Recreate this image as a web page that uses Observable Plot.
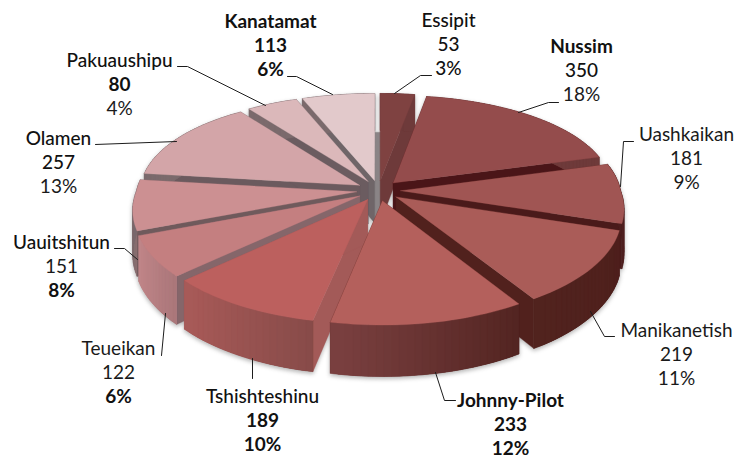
<!DOCTYPE html>
<html><head><meta charset="utf-8">
<script src="https://cdn.jsdelivr.net/npm/d3@7"></script>
<script src="https://cdn.jsdelivr.net/npm/@observablehq/plot@0.6"></script>
<style>
html,body{margin:0;padding:0;background:#fff}
svg > g[aria-label="line"]:first-of-type{filter:drop-shadow(0 2px 2px rgba(90,90,90,.45))}
</style></head><body><div id="chart"></div>
<script>
// Data
const names  = ["Essipit","Nussim","Uashkaikan","Manikanetish","Johnny-Pilot","Tshishteshinu","Teueikan","Uauitshitun","Olamen","Pakuaushipu","Kanatamat"];
const values = [53,350,181,219,233,189,122,151,257,80,113];
const shares = ["3%","18%","9%","11%","12%","10%","6%","8%","13%","4%","6%"];

// Styles, one entry per slice
const topColors  = ["#7f4241","#944c4c","#a05553","#aa5c58","#b4605c","#bc605e","#c47f80","#cc9092","#d3a5a8","#dbb8ba","#e2c9cb"];
const wallColors = ["#6e3a3a","#4a1518","#4a1a1a","#51211d","#51231f","#a35a58","#85666a","#6f5a5c","#6b5a5e","#6b5c60","#6f6568"];
const rimLeft    = ["#6e3a3a","#6e3a3a","#4f2020","#51231e","#7a4040","#a85a58","#c08588","#7b6a6c","#7b6a6c","#7b6a6c","#7b6a6c"];
const rimRight   = ["#6e3a3a","#6e3a3a","#4f2020","#4f201d","#512320","#854a48","#a87578","#8d7072","#7b6a6c","#7b6a6c","#7b6a6c"];
const coreColor  = "#8a8486";
const weights = [
  ["600","600","600"],["700","600","400"],["400","400","400"],["400","400","400"],
  ["700","700","700"],["600","700","700"],["400","400","700"],["600","400","700"],
  ["600","600","400"],["600","700","400"],["700","700","700"]
];

// Layout of the labels and leaders (pixels)
const labelX = [448,581,686,676,510,262,118,61,58,119,270];
const labelY = [20,46,134,330,400,396,348,242,138,60,21];
const lineGap = 24.4;
const leaders = [
  [[431,75],[420,75],[394,93]],
  [[558,102],[548,102],[518,112]],
  [[633,141],[623,141],[620,186]],
  [[614,336],[604,336],[590,311]],
  [[455,400],[444,400],[435,372]],
  [[252,378],[252,358]],
  [[161,355],[165,313]],
  [[114,248],[124,248],[137,259]],
  [[95,144],[176,141]],
  [[177,66],[187,66],[265,105]],
  [[287,76],[296,76],[332,94]]
];

// 3D pie model
const cx = 378, cy = 190, R = 220, Ry = 102.6, k = 0.148, H = 43, pull = 0.1, kxFar = 0.08, kxNear = 0.16;
const project = (X, Y, z = 0) => {
  const f = 1 / (1 + k * Y);
  const fx = 1 / (1 + (Y > 0 ? kxFar : kxNear) * Y);
  return [cx + R * X * fx, cy - Ry * Y * f + z * H * f];
};
const total = d3.sum(values);
const polys = [];
let pid = 0;
const addPoly = (pts, c) => {
  const id = "p" + pid++;
  [...pts, pts[0]].forEach(p => polys.push({id, x: p[0], y: p[1], c}));
};
let acc = 0;
const slices = values.map((v, i) => {
  const a0 = acc / total * 2 * Math.PI; acc += v;
  const a1 = acc / total * 2 * Math.PI;
  const b = (a0 + a1) / 2;
  return {i, a0, a1, ox: pull * Math.sin(b), oy: pull * Math.cos(b), depth: Math.cos(b)};
});
const drawOrder = [...slices].sort((s, t) => t.depth - s.depth);

// the grey hub seen through the gap at the back
const hubL = slices[10], hubR = slices[0];
addPoly([
  project(hubL.ox, 0.62, 0.0), project(hubR.ox + 0.004, 0.62, 0.0),
  project(hubR.ox + 0.004, -0.1, 1), project(hubL.ox, -0.1, 1)
], coreColor);

for (const s of drawOrder) {
  const n = Math.max(3, Math.ceil((s.a1 - s.a0) / 0.03));
  const arc = d3.range(n + 1).map(j => {
    const a = s.a0 + (s.a1 - s.a0) * j / n;
    return [Math.sin(a) + s.ox, Math.cos(a) + s.oy];
  });
  const apex = [s.ox, s.oy];
  // radial walls
  for (const e of [arc[0], arc[n]]) {
    addPoly([project(...apex), project(...e), project(...e, 1), project(...apex, 1)], wallColors[s.i]);
  }
  // outer wall, painted in overlapping strips for a left to right shading
  const xs = arc.map(p => p[0]);
  const xmin = d3.min(xs), xmax = d3.max(xs);
  const mix = d3.interpolateRgb(rimLeft[s.i], rimRight[s.i]);
  for (let j = 0; j < n; j++) {
    const t = xmax > xmin ? ((arc[j][0] + arc[j + 1][0]) / 2 - xmin) / (xmax - xmin) : 0;
    const a = arc[Math.max(0, j - 1)], e = arc[Math.min(n, j + 2)];
    addPoly([project(...a), project(...arc[j + 1]), project(...e), project(...e, 1), project(...arc[j + 1], 1), project(...a, 1)], mix(t));
  }
  // top face
  addPoly([project(...apex), ...arc.map(p => project(...p))], topColors[s.i]);
}

const labelRows = names.flatMap((name, i) =>
  [name, String(values[i]), shares[i]].map((text, l) => ({
    text, x: labelX[i], y: labelY[i] + l * lineGap, w: weights[i][l]
  }))
);
const leaderRows = leaders.flatMap((pts, i) => pts.map(p => ({name: names[i], x: p[0], y: p[1]})));

const plot = Plot.plot({
  width: 735, height: 458, margin: 0,
  x: {domain: [0, 735], range: [0, 735], axis: null},
  y: {domain: [0, 458], range: [0, 458], axis: null},
  color: {type: "identity"},
  style: {background: "#fff"},
  marks: [
    Plot.line(polys, {x: "x", y: "y", z: "id", fill: "c", stroke: "c", strokeWidth: 0.3}),
    Plot.line(leaderRows, {x: "x", y: "y", z: "name", stroke: "#1c1c1c", strokeWidth: 1}),
    Plot.text(labelRows.filter(d => d.w === "400"), {x: "x", y: "y", text: "text", fontSize: 19, fontFamily: "Lato", fill: "#1a1a1a"}),
    Plot.text(labelRows.filter(d => d.w === "600"), {x: "x", y: "y", text: "text", fontSize: 19, fontFamily: "Lato", fontWeight: 500, fill: "#111"}),
    Plot.text(labelRows.filter(d => d.w === "700"), {x: "x", y: "y", text: "text", fontSize: 19, fontFamily: "Lato", fontWeight: 700, fill: "#111"})
  ]
});
document.getElementById("chart").append(plot);
</script></body></html>
